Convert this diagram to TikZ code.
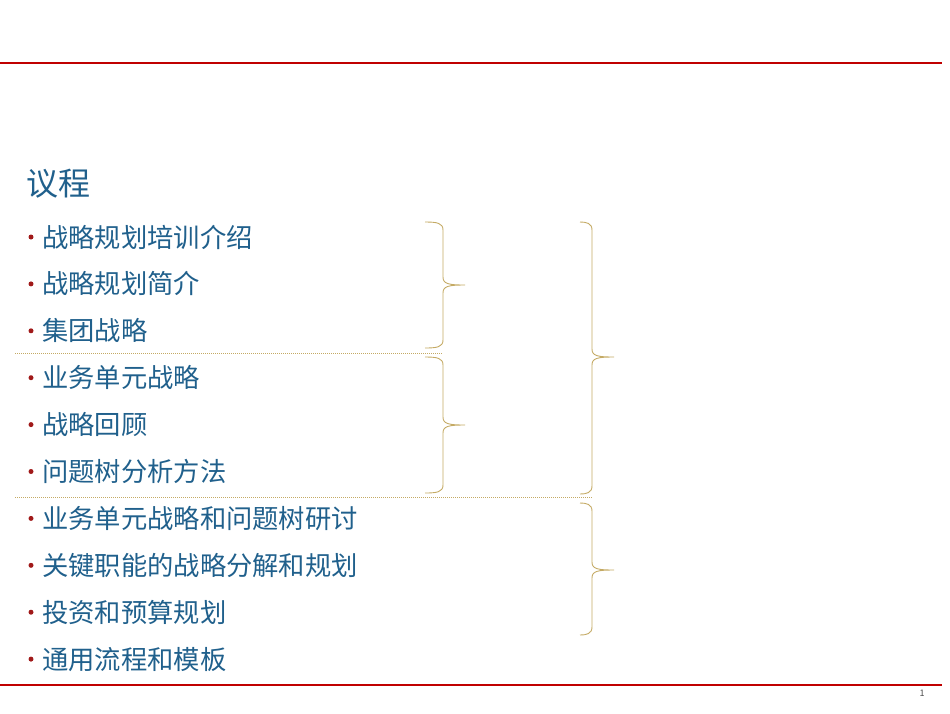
\documentclass[tikz,border=0pt]{standalone}
\usepackage{fontspec}
\setmainfont{Noto Sans CJK SC}
\definecolor{tblue}{RGB}{32,96,140}
\definecolor{tred}{RGB}{192,0,0}
\definecolor{bul}{RGB}{160,25,25}
\definecolor{gold}{RGB}{196,170,100}
\newcommand{\mybrace}[5]{\draw[gold,line width=0.9pt] (#1,#3) .. controls (#2-6,#3) and (#2,#3+1) .. (#2,#3+8) -- (#2,#4-8) .. controls (#2,#4-1) and (#2+6,#4) .. (#2+22,#4) .. controls (#2+6,#4) and (#2,#4+1) .. (#2,#4+8) -- (#2,#5-8) .. controls (#2,#5-1) and (#2-6,#5) .. (#1,#5);}
\begin{document}
\begin{tikzpicture}[x=1pt,y=-1pt,
  item/.style={anchor=west,text=tblue,font=\fontsize{26.3}{29}\selectfont,inner sep=0pt},
  dot/.style={circle,fill=bul,inner sep=0pt,minimum size=5pt}]
\useasboundingbox (0,0) rectangle (950,713);
\draw[tred,line width=2pt] (0,63) -- (942,63);
\draw[tred,line width=2pt] (0,685) -- (942,685);
\node[anchor=west,text=tblue,font=\fontsize{32}{36}\selectfont,inner sep=0pt] (title) at (26,184) {议程};
\foreach \t [count=\i] in {战略规划培训介绍,战略规划简介,集团战略,业务单元战略,战略回顾,问题树分析方法,业务单元战略和问题树研讨,关键职能的战略分解和规划,投资和预算规划,通用流程和模板}{
  \node[dot] (d\i) at (31,{237+(\i-1)*46.9}) {};
  \node[item] (t\i) at (42,{237+(\i-1)*46.9}) {\t};
}
\draw[gold,dash pattern=on 1pt off 1pt,line width=0.5pt] (15,353) -- (443,353);
\draw[gold,dash pattern=on 1pt off 1pt,line width=0.5pt] (15,497) -- (593,497);
\mybrace{425}{443}{222}{285}{348}
\mybrace{425}{443}{357}{425}{493}
\mybrace{580}{592}{222}{357}{494}
\mybrace{580}{592}{503}{570}{635}
\node[font=\fontsize{9}{10}\selectfont,text=black!70] (pg) at (922,693) {1};
\end{tikzpicture}
\end{document}
